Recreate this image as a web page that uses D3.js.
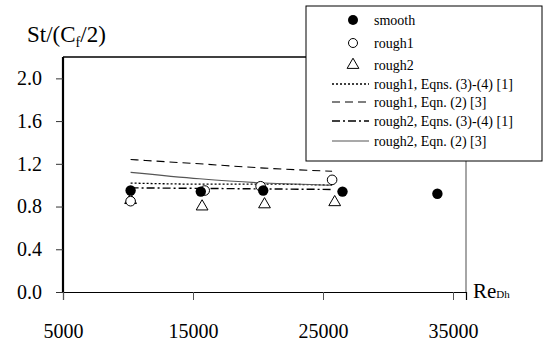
<!DOCTYPE html>
<html><head><meta charset="utf-8">
<script src="https://cdn.jsdelivr.net/npm/d3@7"></script>
<style>body{margin:0;background:#fff}svg{display:block}text{font-family:"Liberation Serif","DejaVu Serif","Noto Serif",Tinos,"Times New Roman",Times,serif;fill:#000}</style>
</head><body><svg id="c" width="543" height="346"></svg>
<script>
const xTicks = [5000, 15000, 25000, 35000];
const yTicks = [0.0, 0.4, 0.8, 1.2, 1.6, 2.0];
const smoothRe = [10200, 15600, 20400, 26500, 33800];
const smoothSt = [0.95, 0.94, 0.95, 0.94, 0.92];
const rough1Re = [10200, 15900, 20200, 25700];
const rough1St = [0.85, 0.95, 0.99, 1.05];
const rough2Re = [10200, 15700, 20500, 25900];
const rough2St = [0.86, 0.80, 0.82, 0.84];
const lineRe = [10200, 15500, 20500, 25700];
const rough1Eqn34 = [1.02, 1.01, 1.01, 1.00];
const rough1Eqn2 = [1.24, 1.20, 1.16, 1.13];
const rough2Eqn34 = [0.975, 0.97, 0.965, 0.96];
const rough2Eqn2 = [1.12, 1.06, 1.02, 1.00];
const legendLabels = ["smooth", "rough1", "rough2", "rough1, Eqns. (3)-(4) [1]", "rough1, Eqn. (2) [3]", "rough2, Eqns. (3)-(4) [1]", "rough2, Eqn. (2) [3]"];

const FONT = '"Liberation Serif","DejaVu Serif","Noto Serif",Tinos,"Times New Roman",Times,serif';
const svg = d3.select("#c");
const L = 63, R = 466, T = 57, B = 292;
const x = d3.scaleLinear().domain([5000, 36000]).range([L, R]);
const y = d3.scaleLinear().domain([0, 2.2]).range([B, T]);

// x axis
const xa = svg.append("g").attr("transform", `translate(0,${B})`)
  .call(d3.axisBottom(x).tickValues(xTicks).tickSize(8).tickPadding(24).tickFormat(d3.format("d")));
xa.attr("font-family", null);
xa.select(".domain").attr("stroke", "#000").attr("stroke-width", 1.2);
xa.selectAll(".tick line").attr("stroke", "#555");
xa.selectAll("text").style("font-size", "20px").style("font-family", FONT);

// y axis
const ya = svg.append("g").attr("transform", `translate(${L},0)`)
  .call(d3.axisLeft(y).tickValues(yTicks).tickSize(7).tickPadding(14).tickFormat(d3.format(".1f")));
ya.attr("font-family", null);
ya.select(".domain").attr("stroke", "#000").attr("stroke-width", 2.2).attr("d", `M0,${B}V${T}`);
ya.selectAll(".tick line").attr("stroke", "#333");
ya.selectAll("text").style("font-size", "20px").style("font-family", FONT);

// frame: top black, right gray
svg.append("line").attr("x1", L).attr("x2", 306).attr("y1", T).attr("y2", T).attr("stroke", "#000").attr("stroke-width", 1.5);
svg.append("line").attr("x1", R).attr("x2", R).attr("y1", 161).attr("y2", B).attr("stroke", "#888").attr("stroke-width", 1.5);

// axis titles
const yt = svg.append("text").attr("x", 27).attr("y", 42).style("font-size", "23px");
yt.append("tspan").text("St/(C");
yt.append("tspan").text("f").style("font-size", "14px").attr("dy", 5);
yt.append("tspan").text("/2)").attr("dy", -5);
const xt = svg.append("text").attr("x", 473).attr("y", 298).style("font-size", "21px");
xt.append("tspan").text("Re");
xt.append("tspan").text("Dh").style("font-size", "11px");

// lines
const lineStyles = [
  {vals: rough1Eqn34, dash: "2,2", color: "#000", w: 1.3},
  {vals: rough1Eqn2, dash: "8,5", color: "#000", w: 1.1},
  {vals: rough2Eqn34, dash: "8,3,2,3", color: "#000", w: 1.4},
  {vals: rough2Eqn2, dash: null, color: "#555", w: 1.1}
];
const lg = d3.line().x(d => x(d[0])).y(d => y(d[1])).curve(d3.curveMonotoneX);
lineStyles.forEach(s => {
  svg.append("path").attr("d", lg(lineRe.map((r, i) => [r, s.vals[i]])))
    .attr("fill", "none").attr("stroke", s.color).attr("stroke-width", s.w)
    .attr("stroke-dasharray", s.dash);
});

// markers
const tri = d3.symbol().type(d3.symbolTriangle).size(60);
svg.selectAll(".r2").data(rough2Re.map((r, i) => [r, rough2St[i]])).join("path")
  .attr("d", tri).attr("transform", d => `translate(${x(d[0])},${y(d[1])})`)
  .attr("fill", "#fff").attr("stroke", "#000").attr("stroke-width", 1);
svg.selectAll(".r1").data(rough1Re.map((r, i) => [r, rough1St[i]])).join("circle")
  .attr("cx", d => x(d[0])).attr("cy", d => y(d[1])).attr("r", 4.8)
  .attr("fill", "#fff").attr("stroke", "#000").attr("stroke-width", 1);
svg.selectAll(".sm").data(smoothRe.map((r, i) => [r, smoothSt[i]])).join("circle")
  .attr("cx", d => x(d[0])).attr("cy", d => y(d[1])).attr("r", 5.2).attr("fill", "#000");

// legend
const lgd = svg.append("g");
lgd.append("rect").attr("x", 306).attr("y", 6).attr("width", 236).attr("height", 155)
  .attr("fill", "#fff").attr("stroke", "#000").attr("stroke-width", 1);
const rowsY = [20, 43, 65, 84, 102, 121, 141];
legendLabels.forEach((t, i) => {
  lgd.append("text").attr("x", 374).attr("y", rowsY[i]).attr("dy", "0.35em").style("font-size", "14px").text(t);
});
lgd.append("circle").attr("cx", 353).attr("cy", rowsY[0]).attr("r", 5).attr("fill", "#000");
lgd.append("circle").attr("cx", 353).attr("cy", rowsY[1]).attr("r", 4.5).attr("fill", "#fff").attr("stroke", "#000");
lgd.append("path").attr("d", tri).attr("transform", `translate(353,${rowsY[2]})`).attr("fill", "#fff").attr("stroke", "#000");
lineStyles.forEach((s, i) => {
  lgd.append("line").attr("x1", 332).attr("x2", 369).attr("y1", rowsY[3 + i]).attr("y2", rowsY[3 + i])
    .attr("stroke", s.color).attr("stroke-width", s.w).attr("stroke-dasharray", s.dash);
});
</script></body></html>
